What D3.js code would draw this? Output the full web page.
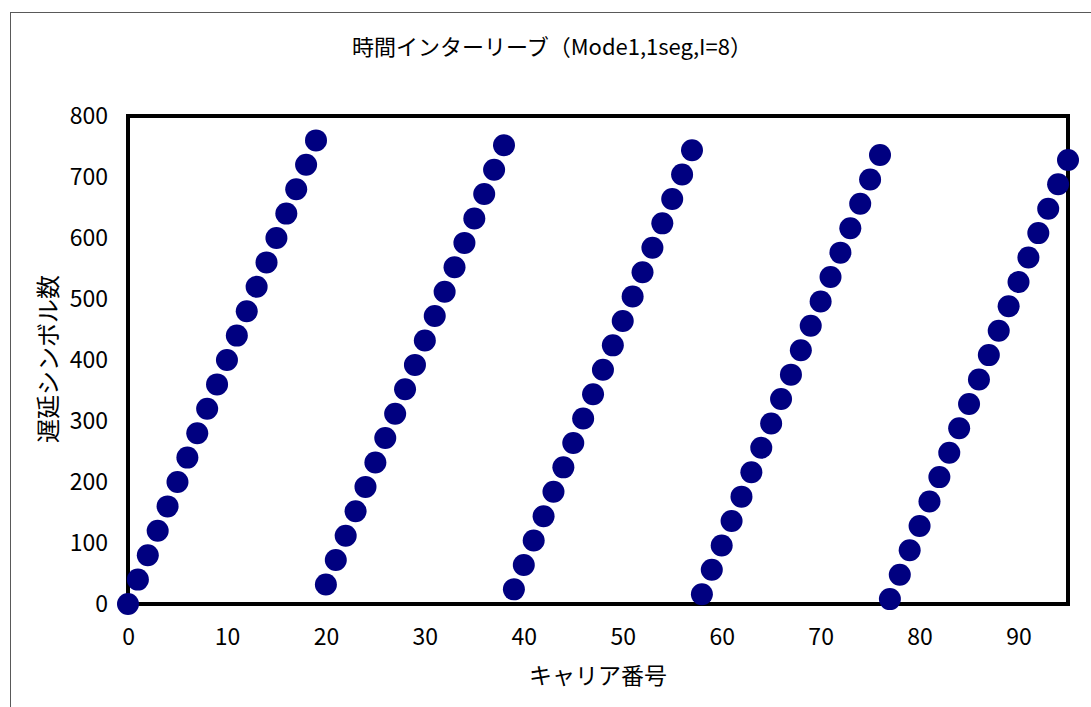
<!DOCTYPE html>
<html>
<head>
<meta charset="utf-8">
<script src="https://cdn.jsdelivr.net/npm/d3@7"></script>
<style>
  body { margin: 0; background: #fff; }
  text { font-family: "Noto Sans CJK JP", "Noto Sans", sans-serif; fill: #000; }
</style>
</head>
<body>
<div id="chart"></div>
<script>
// carrier number
var carriers = [
  0, 1, 2, 3, 4, 5, 6, 7, 8, 9, 10, 11, 12, 13, 14, 15, 16, 17, 18, 19,
  20, 21, 22, 23, 24, 25, 26, 27, 28, 29, 30, 31, 32, 33, 34, 35, 36, 37, 38,
  39, 40, 41, 42, 43, 44, 45, 46, 47, 48, 49, 50, 51, 52, 53, 54, 55, 56, 57,
  58, 59, 60, 61, 62, 63, 64, 65, 66, 67, 68, 69, 70, 71, 72, 73, 74, 75, 76,
  77, 78, 79, 80, 81, 82, 83, 84, 85, 86, 87, 88, 89, 90, 91, 92, 93, 94, 95
];
// delay in symbols
var delays = [
  0, 40, 80, 120, 160, 200, 240, 280, 320, 360, 400, 440, 480, 520, 560, 600, 640, 680, 720, 760,
  32, 72, 112, 152, 192, 232, 272, 312, 352, 392, 432, 472, 512, 552, 592, 632, 672, 712, 752,
  24, 64, 104, 144, 184, 224, 264, 304, 344, 384, 424, 464, 504, 544, 584, 624, 664, 704, 744,
  16, 56, 96, 136, 176, 216, 256, 296, 336, 376, 416, 456, 496, 536, 576, 616, 656, 696, 736,
  8, 48, 88, 128, 168, 208, 248, 288, 328, 368, 408, 448, 488, 528, 568, 608, 648, 688, 728
];
var xTicks = [0, 10, 20, 30, 40, 50, 60, 70, 80, 90];
var yTicks = [0, 100, 200, 300, 400, 500, 600, 700, 800];
var title = "時間インターリーブ（Mode1,1seg,I=8）";
var xTitle = "キャリア番号";
var yTitle = "遅延シンボル数";

var W = 1091, H = 707;
var plot = { left: 128, top: 116, right: 1068, bottom: 604 };

var svg = d3.select("#chart").append("svg")
    .attr("width", W)
    .attr("height", H);

// outer chart border
svg.append("rect")
    .attr("x", 10.5).attr("y", 12.5)
    .attr("width", 1100).attr("height", 720)
    .attr("fill", "#fff")
    .attr("stroke", "#595959")
    .attr("stroke-width", 1);

var x = d3.scaleLinear().domain([0, 95]).range([plot.left, plot.right]);
var y = d3.scaleLinear().domain([0, 800]).range([plot.bottom, plot.top]);

// x axis labels
svg.append("g")
    .attr("transform", "translate(0," + plot.bottom + ")")
    .call(d3.axisBottom(x).tickValues(xTicks).tickSize(0).tickPadding(25))
    .call(function (g) { g.select(".domain").remove(); })
    .selectAll("text")
    .style("font-size", "23px")
    .style("font-family", "'Noto Sans CJK JP', sans-serif");

// y axis labels
svg.append("g")
    .attr("transform", "translate(" + plot.left + ",0)")
    .call(d3.axisLeft(y).tickValues(yTicks).tickSize(0).tickPadding(20))
    .call(function (g) { g.select(".domain").remove(); })
    .selectAll("text")
    .style("font-size", "23px")
    .style("font-family", "'Noto Sans CJK JP', sans-serif");

// plot frame
svg.append("rect")
    .attr("x", plot.left).attr("y", plot.top)
    .attr("width", plot.right - plot.left)
    .attr("height", plot.bottom - plot.top)
    .attr("fill", "none")
    .attr("stroke", "#000")
    .attr("stroke-width", 4);

// points
svg.append("g").selectAll("circle")
    .data(carriers)
    .enter().append("circle")
    .attr("cx", function (d) { return x(d); })
    .attr("cy", function (d, i) { return y(delays[i]); })
    .attr("r", 11)
    .attr("fill", "#000080");

// titles
svg.append("text")
    .attr("x", 552).attr("y", 55)
    .attr("text-anchor", "middle")
    .style("font-size", "22px")
    .text(title);

svg.append("text")
    .attr("x", 598).attr("y", 684)
    .attr("text-anchor", "middle")
    .style("font-size", "23px")
    .text(xTitle);

svg.append("text")
    .attr("transform", "translate(57,359)rotate(-90)")
    .attr("text-anchor", "middle")
    .style("font-size", "24px")
    .text(yTitle);
</script>
</body>
</html>
